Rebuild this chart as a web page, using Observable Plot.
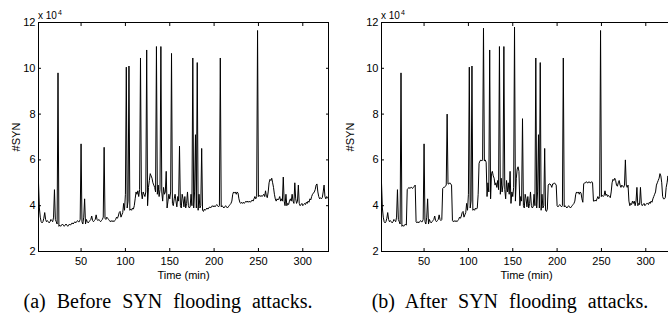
<!DOCTYPE html>
<html>
<head>
<meta charset="utf-8">
<script src="https://cdn.jsdelivr.net/npm/d3@7"></script>
<script src="https://cdn.jsdelivr.net/npm/@observablehq/plot@0.6"></script>
<style>
  html, body { margin: 0; padding: 0; background: #fff; }
  #fig { position: relative; width: 668px; height: 320px; overflow: hidden; background: #fff;
         font-family: "Liberation Sans", Arial, Helvetica, sans-serif; color: #000; }
  .panel { position: absolute; top: 0; }
  .mult { position: absolute; font-size: 10px; line-height: 1; white-space: nowrap; }
  .mult .sup { font-size: 7px; position: relative; top: -4px; margin-left: 1px; }
  .caption { position: absolute; top: 291px; width: 340px; text-align: center; white-space: nowrap;
             font-family: "Liberation Serif", "Times New Roman", serif; font-size: 20px; line-height: 1; word-spacing: 6px; }
</style>
</head>
<body>
<div id="fig"></div>
<script>
// Sampling grid: one sample per minute
const firstMinute = 2;
const lastMinute = 329;

// #SYN (in units of 10^4) before SYN flooding attacks, minutes 2..329
const synBefore = [
  5.0, 3.9, 3.5, 3.3, 3.25, 3.3, 3.45, 3.7, 3.4, 3.3,
  3.35, 3.3, 3.25, 3.3, 3.4, 3.35, 3.3, 3.5, 4.7, 3.4,
  3.3, 3.2, 9.8, 3.1, 3.15, 3.1, 3.15, 3.2, 3.15, 3.1,
  3.15, 3.2, 3.15, 3.1, 3.15, 3.2, 3.15, 3.2, 3.25, 3.2,
  3.25, 3.3, 3.25, 3.3, 3.35, 3.3, 3.3, 3.4, 6.7, 3.3,
  3.2, 3.5, 4.3, 3.2, 3.4, 3.3, 3.25, 3.3, 3.35, 3.4,
  3.55, 3.35, 3.3, 3.35, 3.4, 3.6, 3.4, 3.35, 3.4, 3.35,
  3.3, 3.35, 3.4, 3.5, 6.55, 3.45, 3.4, 3.5, 3.45, 3.4,
  3.35, 3.3, 3.35, 3.3, 3.35, 3.3, 3.35, 3.4, 3.5, 3.45,
  3.55, 3.7, 3.75, 3.5, 3.6, 3.7, 4.1, 3.8, 4.5, 10.05,
  3.9, 4.2, 10.1, 3.8, 3.85, 3.8, 3.9, 3.85, 4.0, 4.3,
  4.6, 4.5, 4.65, 4.4, 4.7, 10.45, 4.6, 4.3, 4.6, 4.5,
  4.4, 4.6, 10.8, 4.0, 4.8, 5.1, 5.4, 5.3, 5.2, 5.0,
  4.9, 4.8, 4.6, 10.95, 4.5, 4.9, 4.4, 4.7, 10.95, 4.6,
  4.2, 4.8, 4.5, 4.6, 5.5, 3.9, 4.2, 4.5, 4.3, 4.6,
  10.65, 4.1, 4.0, 4.3, 4.5, 4.2, 3.95, 4.4, 4.2, 6.6,
  4.0, 3.9, 4.5, 4.3, 3.95, 4.4, 3.9, 4.1, 4.6, 4.0,
  3.9, 3.95, 4.5, 4.0, 10.45, 3.9, 4.6, 7.1, 3.9, 10.25,
  3.8, 4.5, 3.9, 4.0, 6.5, 3.8, 3.75, 3.85, 3.8, 3.85,
  3.9, 3.85, 3.9, 3.95, 3.9, 3.95, 4.0, 3.95, 4.0, 3.95,
  4.0, 4.05, 4.0, 3.95, 4.0, 10.45, 3.95, 4.0, 3.95, 3.9,
  3.95, 4.0, 3.95, 3.9, 3.95, 4.0, 4.05, 4.1, 4.2, 4.5,
  4.6, 4.55, 4.6, 4.5, 4.6, 4.55, 4.3, 4.15, 4.1, 4.15,
  4.1, 4.15, 4.1, 4.15, 4.2, 4.15, 4.2, 4.15, 4.2, 4.15,
  4.2, 4.25, 4.2, 4.3, 4.4, 4.3, 4.4, 11.65, 4.4, 4.45,
  4.4, 4.45, 4.4, 4.45, 4.5, 4.4, 4.65, 4.4, 4.35, 4.6,
  5.0, 5.15, 5.1, 5.2, 5.0, 4.8, 4.5, 4.3, 4.2, 4.3,
  4.25, 4.3, 4.4, 4.2, 4.3, 4.2, 5.25, 4.2, 4.0, 4.5,
  4.0, 4.1, 4.05, 4.2, 4.3, 4.2, 4.5, 4.2, 4.1, 5.0,
  4.3, 4.1, 4.2, 4.9, 4.1, 4.0, 4.05, 4.1, 4.0, 4.05,
  4.1, 4.05, 4.15, 4.1, 4.2, 4.15, 4.3, 4.25, 4.4, 4.5,
  4.55, 4.6, 4.7, 4.9, 4.95, 4.6, 4.4, 4.3, 4.35, 4.3,
  4.35, 4.6, 4.9, 4.4, 4.3, 4.4, 4.35, 4.3
];

// #SYN (in units of 10^4) after SYN flooding attacks, minutes 2..329
const synAfter = [
  5.0, 3.9, 3.5, 3.3, 3.25, 3.3, 3.45, 3.7, 3.4, 3.3,
  3.35, 3.3, 3.25, 3.3, 3.4, 3.35, 3.3, 3.5, 4.7, 3.4,
  3.3, 3.2, 9.8, 3.1, 3.15, 3.1, 3.15, 3.2, 3.15, 4.7,
  4.75, 4.8, 4.75, 4.8, 4.8, 4.75, 4.8, 4.85, 4.9, 3.3,
  3.25, 3.3, 3.25, 3.3, 3.35, 3.3, 3.3, 3.4, 6.7, 3.3,
  3.2, 3.5, 4.3, 3.2, 3.4, 3.3, 3.25, 3.3, 3.35, 3.4,
  3.55, 3.35, 3.3, 3.35, 3.4, 3.6, 3.4, 3.35, 3.4, 4.75,
  4.8, 4.8, 4.85, 4.9, 8.0, 4.95, 4.95, 5.0, 4.95, 4.9,
  3.35, 3.3, 3.35, 3.3, 3.35, 3.3, 3.35, 3.4, 3.5, 3.45,
  3.55, 3.7, 3.75, 3.5, 3.6, 3.7, 4.1, 3.8, 4.5, 10.05,
  3.9, 4.2, 10.1, 3.8, 3.85, 3.8, 3.9, 3.85, 3.9, 4.5,
  5.85, 5.95, 6.0, 5.95, 6.0, 11.75, 5.95, 6.0, 5.9, 4.4,
  5.0, 4.6, 10.8, 4.3, 5.4, 5.5, 5.3, 5.2, 4.9, 5.0,
  4.8, 5.1, 4.7, 10.95, 4.5, 5.2, 4.6, 4.9, 10.95, 4.7,
  4.3, 5.1, 4.6, 5.0, 4.5, 5.5, 4.1, 4.6, 4.4, 4.8,
  11.8, 4.2, 5.2, 5.6, 5.7, 5.5, 4.0, 4.4, 4.2, 7.8,
  4.0, 3.9, 4.5, 4.3, 3.95, 4.4, 3.9, 4.1, 4.6, 4.0,
  3.9, 3.95, 4.5, 4.0, 10.45, 3.9, 4.6, 7.1, 3.9, 10.25,
  3.8, 4.5, 3.9, 4.0, 6.5, 3.8, 3.75, 3.85, 4.9, 4.95,
  4.95, 4.9, 4.8, 4.95, 4.95, 5.0, 4.95, 4.9, 4.0, 3.95,
  4.0, 4.05, 4.0, 3.95, 4.0, 10.45, 3.95, 4.0, 3.95, 3.9,
  3.95, 4.0, 3.95, 3.9, 3.95, 4.0, 4.05, 4.1, 4.2, 4.5,
  4.6, 4.55, 4.6, 4.5, 4.6, 4.55, 4.3, 4.15, 4.95, 5.0,
  5.0, 5.05, 5.0, 5.0, 5.05, 5.0, 5.0, 5.05, 5.0, 4.2,
  4.2, 4.25, 4.2, 4.3, 4.4, 4.3, 4.4, 11.65, 4.4, 4.45,
  4.4, 4.45, 4.65, 4.45, 4.5, 4.4, 4.45, 4.4, 4.35, 4.6,
  5.0, 5.15, 5.1, 5.2, 5.1, 4.9, 4.85, 5.0, 5.1, 4.9,
  4.8, 4.9, 4.85, 4.8, 4.9, 6.0, 4.9, 4.8, 4.9, 4.2,
  4.0, 4.1, 4.05, 4.2, 4.1, 4.2, 4.0, 4.2, 4.8, 4.0,
  4.1, 4.05, 4.8, 4.1, 4.0, 4.05, 4.1, 4.0, 4.05, 4.1,
  4.1, 4.05, 4.15, 4.1, 4.2, 4.15, 4.3, 4.4, 4.5, 4.6,
  4.9, 5.0, 5.1, 5.2, 5.4, 5.3, 5.0, 4.4, 4.3, 4.3,
  4.35, 4.8, 5.0, 5.3, 4.8, 4.5, 4.6, 4.5
];

const xTicks = [50, 100, 150, 200, 250, 300];
const yTicks = [2, 4, 6, 8, 10, 12];
const yLabel = "#SYN";
const xLabel = "Time (min)";
const multiplier = ["x 10", "4"];
const captions = ["(a) Before SYN flooding attacks.", "(b) After SYN flooding attacks."];

const minutes = d3.range(firstMinute, lastMinute + 1);

function panel(values, {width, marginLeft, labelOffsetY}) {
  const data = values.map((v, i) => ({minute: minutes[i], syn: v}));
  const plotWidth = 290;
  return Plot.plot({
    width,
    height: 285,
    marginLeft,
    marginRight: width - marginLeft - plotWidth,
    marginTop: 22,
    marginBottom: 34,
    style: {fontFamily: "'Liberation Sans', Arial, Helvetica, sans-serif", fontSize: "11px", color: "black", background: "transparent", overflow: "visible"},
    x: {domain: [firstMinute, lastMinute]},
    y: {domain: [2, 12]},
    marks: [
      Plot.line(data, {x: "minute", y: "syn", stroke: "black", strokeWidth: 1}),
      Plot.frame({stroke: "black", strokeWidth: 1}),
      Plot.axisX(xTicks, {anchor: "bottom", tickSize: -3, tickPadding: 8.5, label: xLabel, labelAnchor: "center", labelOffset: 27, labelArrow: "none", fontSize: 11}),
      Plot.axisX(xTicks, {anchor: "top", tickSize: -3, tickFormat: () => "", label: null}),
      Plot.axisY(yTicks, {anchor: "left", tickSize: -3, tickPadding: 6, label: yLabel, labelAnchor: "center", labelOffset: labelOffsetY, labelArrow: "none", fontSize: 11}),
      Plot.axisY(yTicks, {anchor: "right", tickSize: -3, tickFormat: () => "", label: null})
    ]
  });
}

const fig = document.getElementById("fig");

const panels = [
  {values: synBefore, left: 0, width: 334, marginLeft: 38, labelOffsetY: 26.5, caption: captions[0], capCenter: 168},
  {values: synAfter, left: 334, width: 340, marginLeft: 47, labelOffsetY: 35.5, caption: captions[1], capCenter: 510}
];

for (const p of panels) {
  const svg = panel(p.values, p);
  svg.classList.add("panel");
  svg.style.left = p.left + "px";
  fig.appendChild(svg);

  const m = document.createElement("div");
  m.className = "mult";
  m.style.left = (p.left + p.marginLeft) + "px";
  m.style.top = "10.5px";
  m.textContent = multiplier[0];
  const s = document.createElement("span");
  s.className = "sup";
  s.textContent = multiplier[1];
  m.appendChild(s);
  fig.appendChild(m);

  const c = document.createElement("div");
  c.className = "caption";
  c.style.left = (p.capCenter - 170) + "px";
  c.textContent = p.caption;
  fig.appendChild(c);
}
</script>
</body>
</html>
